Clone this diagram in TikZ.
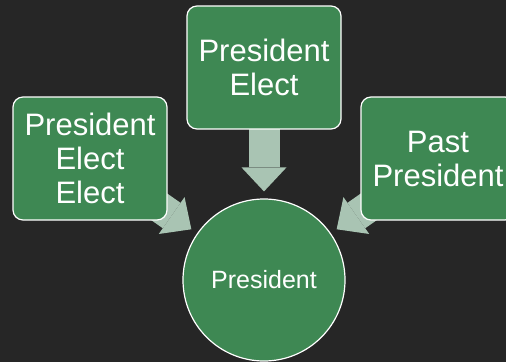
\documentclass[tikz,border=0pt]{standalone}
\usepackage{fontspec}
\setmainfont{Liberation Sans}
\usetikzlibrary{arrows.meta,backgrounds}

\definecolor{bgdark}{HTML}{262626}
\definecolor{officegreen}{HTML}{3E8853}
\definecolor{arrowgreen}{HTML}{A9C4B3}

\tikzset{
	office/.style={draw=white, line width=1.2pt, fill=officegreen, text=white,
		rounded corners=10pt, minimum width=154pt, minimum height=123pt,
		inner sep=0pt, align=center, font=\fontsize{31}{34}\selectfont},
	chair/.style={circle, draw=white, line width=1.2pt, fill=officegreen, text=white,
		minimum size=162pt, inner sep=0pt, font=\fontsize{25}{30}\selectfont},
	succession/.style={draw=arrowgreen, line width=31pt, shorten >=7pt,
		-{Triangle[width=45pt,length=24pt,line width=0pt,fill=arrowgreen]}}
}

\begin{document}
\begin{tikzpicture}[x=1pt,y=-1pt]
	\useasboundingbox (0,0) rectangle (506,362);
	\node[office] (elect) at (264,67.5) {President\\Elect};
	\node[office] (electelect) at (90,158.5) {President\\Elect\\Elect};
	\node[office] (past) at (438,158.5) {Past\\President};
	\node[chair] (pres) at (264,280) {President};

	\begin{scope}[on background layer]
		\fill[bgdark] (0,0) rectangle (506,362);
		\path[succession] (elect.center) -- (pres);
		\path[succession] (electelect.center) -- (pres);
		\path[succession] (past.center) -- (pres);
	\end{scope}
\end{tikzpicture}
\end{document}
